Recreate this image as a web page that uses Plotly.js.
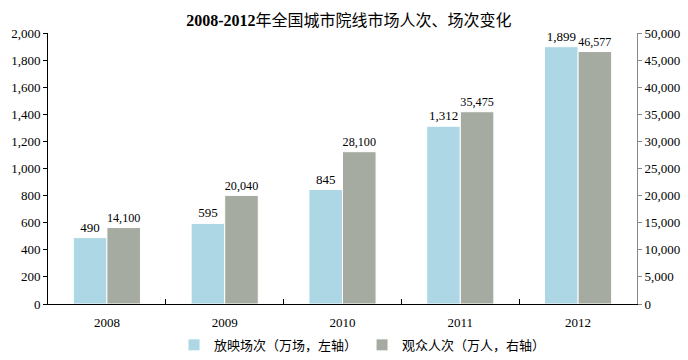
<!DOCTYPE html>
<html><head><meta charset="utf-8">
<script src="https://cdn.plot.ly/plotly-3.0.1.min.js"></script>
<style>html,body{margin:0;padding:0;background:#fff}</style>
</head><body>
<div id="chart" style="width:688px;height:360px"></div>
<script>
const years = ['2008','2009','2010','2011','2012'];
const screenings = [490, 595, 845, 1312, 1899];
const audience = [14100, 20040, 28100, 35475, 46577];
const name1 = '放映场次（万场，左轴）';
const name2 = '观众人次（万人，右轴）';
const leftTicks = [0,200,400,600,800,1000,1200,1400,1600,1800,2000];
const rightTicks = [0,5000,10000,15000,20000,25000,30000,35000,40000,45000,50000];

const serif = '"Liberation Serif", "Times New Roman", "Noto Sans CJK SC", serif';
const cjk = '"Liberation Serif", "Noto Sans CJK SC", serif';

const data = [
  {type:'bar', x:years, y:screenings, name:name1, offsetgroup:'a', yaxis:'y',
   marker:{color:'#ADD7E4', line:{color:'#ffffff', width:1}},
   texttemplate:'%{y:,}', textposition:'outside', cliponaxis:false,
   textfont:{family:serif, size:13, color:'#000'}},
  {type:'bar', x:years, y:audience, name:name2, offsetgroup:'b', yaxis:'y2',
   marker:{color:'#A5ABA1', line:{color:'#ffffff', width:1}},
   texttemplate:'%{y:,}', textposition:'outside', cliponaxis:false,
   textfont:{family:serif, size:13, color:'#000'}}
];

const layout = {
  width:688, height:360,
  margin:{l:48, r:51, t:33, b:56, autoexpand:false},
  paper_bgcolor:'#fff', plot_bgcolor:'#fff',
  separators:'.,',
  barmode:'group', bargap:0.43, bargroupgap:0,
  showlegend:true,
  title:{text:'<b>2008-2012</b>年全国城市院线市场人次、场次变化', x:0.507, xanchor:'center', y:0.944, yanchor:'middle',
    font:{family:cjk, size:16, color:'#000'}},
  xaxis:{type:'category', showline:true, linecolor:'#000', linewidth:1,
    ticks:'inside', tickson:'boundaries', ticklen:5, tickcolor:'#000', ticklabelstandoff:6,
    tickfont:{family:serif, size:13, color:'#000'}, showgrid:false, zeroline:false},
  yaxis:{range:[0,2000], tickvals:leftTicks, ticktext:leftTicks.map(v=>v.toLocaleString('en-US')),
    showline:true, linecolor:'#000', linewidth:1, ticks:'outside', ticklen:4, tickcolor:'#000',
    showgrid:false, zeroline:false, tickfont:{family:serif, size:13, color:'#000'}},
  yaxis2:{range:[0,50000], overlaying:'y', side:'right', tickvals:rightTicks,
    ticktext:rightTicks.map(v=>v.toLocaleString('en-US')),
    showline:true, linecolor:'#888', linewidth:1, ticks:'outside', ticklen:4, tickcolor:'#888',
    showgrid:false, zeroline:false, tickfont:{family:serif, size:13, color:'#000'}},
  legend:{orientation:'h', x:0.534, xanchor:'center', y:-0.151, yanchor:'middle',
    font:{family:cjk, size:13, color:'#000'}, itemwidth:30, traceorder:'normal'}
};
Plotly.newPlot('chart', data, layout, {displayModeBar:false, staticPlot:true});
</script>
</body></html>
